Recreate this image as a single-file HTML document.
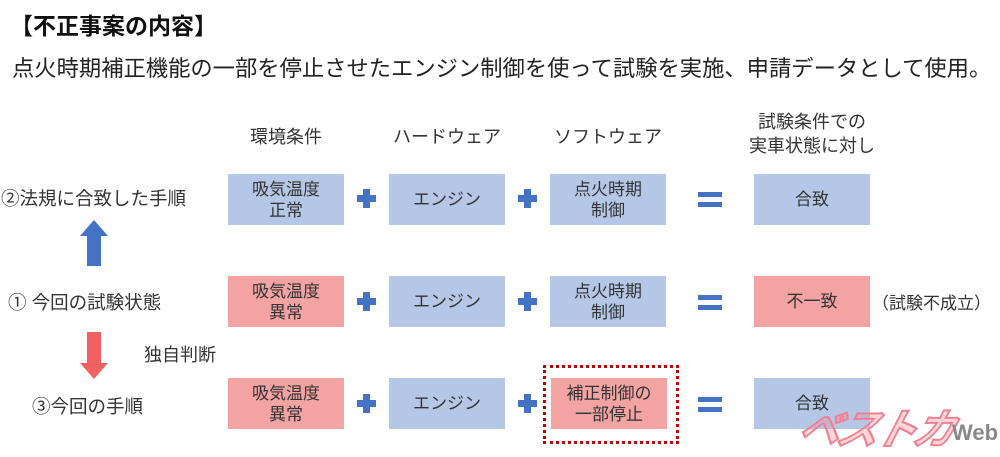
<!DOCTYPE html>
<html><head><meta charset="utf-8"><style>
body{margin:0;width:1000px;height:449px;background:#fff;position:relative;overflow:hidden;font-family:"Liberation Sans","Noto Sans CJK JP",sans-serif;color:#222}
.a{position:absolute;white-space:nowrap}
.b{position:absolute;width:116px;height:51px;display:flex;align-items:center;justify-content:center;text-align:center;font-size:17px;line-height:21px;color:#333}
.bl{background:#b4c7e7}.pk{background:#f4a3a3}
.h{position:absolute;font-size:18px;text-align:center;line-height:24px;color:#333}
.pl{position:absolute;width:19px;height:19px}
.pl:before{content:"";position:absolute;left:6px;top:0;width:7px;height:19px;background:#4472c4}
.pl:after{content:"";position:absolute;left:0;top:6px;width:19px;height:7px;background:#4472c4}
.eq{position:absolute;width:24px;height:15px;border-top:5px solid #4472c4;border-bottom:5px solid #4472c4;box-sizing:border-box}
.l{position:absolute;font-size:18px;color:#333;white-space:nowrap}
</style></head><body>
<div class="a" style="left:10px;top:7px;font-size:23px;font-weight:bold;color:#111">【不正事案の内容】</div>
<div class="a" style="left:12px;top:51px;font-size:22.3px;color:#222">点火時期補正機能の一部を停止させたエンジン制御を使って試験を実施、申請データとして使用。</div>

<div class="h" style="left:216px;top:125px;width:140px">環境条件</div>
<div class="h" style="left:377px;top:125px;width:140px">ハードウェア</div>
<div class="h" style="left:538px;top:125px;width:140px">ソフトウェア</div>
<div class="h" style="left:724px;top:110px;width:176px">試験条件での<br>実車状態に対し</div>

<div class="b bl" style="left:228px;top:174px">吸気温度<br>正常</div>
<div class="b bl" style="left:389px;top:174px">エンジン</div>
<div class="b bl" style="left:550px;top:174px">点火時期<br>制御</div>
<div class="b bl" style="left:754px;top:174px">合致</div>

<div class="b pk" style="left:228px;top:276px">吸気温度<br>異常</div>
<div class="b bl" style="left:389px;top:276px">エンジン</div>
<div class="b bl" style="left:550px;top:276px">点火時期<br>制御</div>
<div class="b pk" style="left:754px;top:276px">不一致</div>
<div class="l" style="left:872px;top:289px;font-size:17px">（試験不成立）</div>

<div class="b pk" style="left:228px;top:378px">吸気温度<br>異常</div>
<div class="b bl" style="left:389px;top:378px">エンジン</div>
<div style="position:absolute;left:543px;top:365px;width:130px;height:73px;border:3px dotted #c00000"></div>
<div class="b pk" style="left:551px;top:378px">補正制御の<br>一部停止</div>
<div class="b bl" style="left:754px;top:378px">合致</div>

<div class="pl" style="left:357px;top:189px"></div><div class="pl" style="left:518px;top:189px"></div>
<div class="pl" style="left:357px;top:292px"></div><div class="pl" style="left:518px;top:292px"></div>
<div class="pl" style="left:357px;top:394px"></div><div class="pl" style="left:518px;top:394px"></div>
<div class="eq" style="left:698px;top:192px"></div>
<div class="eq" style="left:698px;top:295px"></div>
<div class="eq" style="left:698px;top:397px"></div>

<div class="l" style="left:1px;top:185px;font-size:18.5px">②法規に合致した手順</div>
<div class="l" style="left:8px;top:289px;font-size:18.5px">① 今回の試験状態</div>
<div class="l" style="left:144px;top:341px;font-size:18px">独自判断</div>
<div class="l" style="left:32px;top:393px;font-size:18.5px">③今回の手順</div>

<svg class="a" style="left:78px;top:218px" width="32" height="52"><polygon points="16,2 30,18 23,18 23,48 9,48 9,18 2,18" fill="#4472c4"/></svg>
<svg class="a" style="left:78px;top:330px" width="32" height="52"><polygon points="9,2 23,2 23,33 30,33 16,49 2,33 9,33" fill="#f26060"/></svg>

<div class="a" style="left:800px;top:396px;font-size:42px;font-weight:bold;font-style:italic;color:rgba(244,140,150,0.35);-webkit-text-stroke:2px #f08090;letter-spacing:-4px;transform:skewX(-15deg)">ベストカ</div>
<div class="a" style="left:952px;top:420px;font-size:22px;font-weight:bold;color:#888">Web</div>
</body></html>
